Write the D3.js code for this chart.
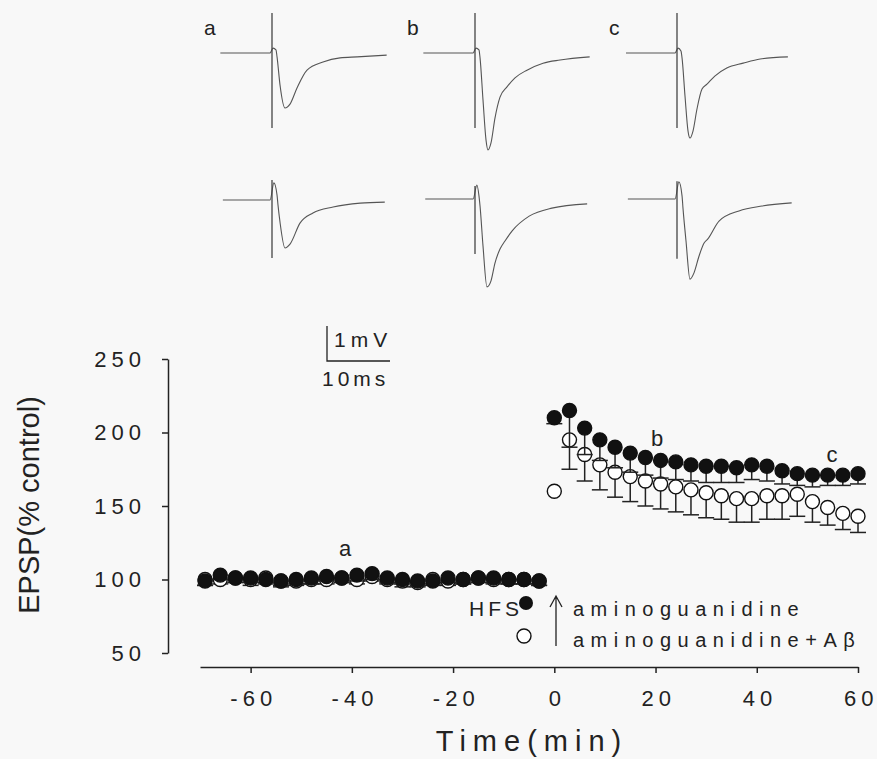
<!DOCTYPE html>
<html>
<head>
<meta charset="utf-8">
<script src="https://cdn.jsdelivr.net/npm/d3@7"></script>
<style>
  body { margin: 0; background: #f8f8f8; }
  svg { font-family: "Liberation Sans", Arial, sans-serif; }
</style>
</head>
<body>
<div id="viz"></div>
<script>
// ---- time course data (min, % control) ----
var preTime  = [-69,-66,-63,-60,-57,-54,-51,-48,-45,-42,-39,-36,-33,-30,-27,-24,-21,-18,-15,-12,-9,-6,-3];
var postTime = [0,3,6,9,12,15,18,21,24,27,30,33,36,39,42,45,48,51,54,57,60];

var aminoPre     = [99,103,101,101,100,99,100,101,102,101,103,104,101,100,99,99,101,100,101,101,100,100,99];
var aminoPreErr  = [3,3,3,3,3,3,3,4,3,3,4,4,3,3,3,3,3,3,3,3,3,3,3];
var abetaPre     = [100,100,101,100,101,99,99,100,100,101,100,102,100,99,98,100,99,100,101,100,100,100,99];
var abetaPreErr  = [4,3,3,4,3,4,3,3,3,3,3,3,3,4,3,3,3,3,3,3,3,3,3];

var aminoPost    = [210,215,203,195,190,186,183,181,180,178,177,177,176,178,177,174,172,171,171,171,172];
var aminoPostErr = [4,25,18,14,14,13,12,12,12,11,11,11,10,10,10,9,8,8,7,7,7];
var abetaPost    = [160,195,185,178,173,170,167,165,163,161,159,157,155,155,157,157,158,153,149,145,143];
var abetaPostErr = [0,20,18,17,17,17,17,17,17,17,17,16,16,16,16,16,15,14,12,11,11];

var xTicks = [-60,-40,-20,0,20,40,60];
var yTicks = [50,100,150,200,250];

// ---- sample traces (ms, mV) ----
var traceA1 = [[-8.2,0],[-0.3,0],[0.16,0.14],[0.63,0.09],[0.8,-0.11],[1.27,-0.91],[2.06,-1.57],[2.86,-1.46],[3.97,-1.0],[5.56,-0.49],[8.1,-0.26],[10.8,-0.14],[13.5,-0.11],[18.2,-0.06]];
var traceB1 = [[-8.2,0],[-0.3,0],[0.16,0.14],[0.63,0.09],[0.8,-0.14],[1.27,-1.34],[1.75,-2.49],[2.06,-2.77],[2.54,-2.57],[3.17,-1.86],[3.97,-1.26],[5.08,-0.97],[6.35,-0.71],[8.25,-0.49],[10.8,-0.29],[13.5,-0.2],[18.2,-0.11]];
var traceC1 = [[-8.1,0],[-0.3,0],[0.16,0.14],[0.63,0.06],[0.8,-0.14],[1.27,-1.23],[1.75,-2.23],[2.06,-2.43],[2.54,-2.23],[3.17,-1.6],[3.97,-1.03],[4.76,-0.89],[6.0,-0.66],[7.9,-0.43],[10.5,-0.29],[13.2,-0.17],[17.6,-0.11]];
var traceA2 = [[-7.8,0],[-0.3,0],[0.3,0.49],[0.8,0.14],[0.95,-0.14],[1.27,-0.63],[2.06,-1.37],[2.86,-1.26],[4.44,-0.66],[6.5,-0.37],[9.7,-0.2],[14.0,-0.09],[17.9,-0.06]];
var traceB2 = [[-7.9,0],[-0.3,0],[0.3,0.4],[0.63,0.09],[0.8,-0.2],[1.27,-1.34],[1.9,-2.51],[2.54,-2.34],[3.17,-1.83],[3.97,-1.43],[4.76,-1.2],[5.9,-0.91],[8.6,-0.49],[12.2,-0.26],[17.8,-0.14]];
var traceC2 = [[-7.8,0],[-0.3,0],[0.3,0.49],[0.8,0.09],[0.95,-0.26],[1.43,-1.2],[2.06,-2.29],[2.7,-2.11],[3.5,-1.63],[4.3,-1.26],[4.9,-1.14],[6.67,-0.63],[9.84,-0.34],[13.5,-0.2],[18.2,-0.11]];
// stimulus artifact extent (mV, top / bottom)
var artifactTop    = [[1.14,-2.14],[1.14,-2.14],[1.14,-2.14]];
var artifactBottom = [[0.57,-1.66],[0.37,-1.57],[0.51,-1.71]];
var traceLabels = ["a","b","c"];

var W = 877, H = 759;
var svg = d3.select("#viz").append("svg")
    .attr("width", W)
    .attr("height", H);

var ink = "#222";

// ---- traces ----
var msScale = d3.scaleLinear().domain([0, 10]).range([0, 63]);
var mvScale = d3.scaleLinear().domain([0, 1]).range([0, -35]);
var panelX = [272, 475, 677];
var rowY = [53, 199];

var traceLine = d3.line()
    .x(function(d){ return msScale(d[0]); })
    .y(function(d){ return mvScale(d[1]); })
    .curve(d3.curveMonotoneX);

function drawTrace(data, art, ox, oy){
    var g = svg.append("g").attr("transform", "translate(" + ox + "," + oy + ")");
    g.append("path")
        .attr("d", traceLine(data))
        .attr("fill", "none")
        .attr("stroke", "#555")
        .attr("stroke-width", 1.1);
    g.append("line")
        .attr("x1", msScale(0)).attr("x2", msScale(0))
        .attr("y1", mvScale(art[0])).attr("y2", mvScale(art[1]))
        .attr("stroke", "#444")
        .attr("stroke-width", 1.3);
}
var topTraces = [traceA1, traceB1, traceC1];
var botTraces = [traceA2, traceB2, traceC2];
for (var i = 0; i < 3; i++){
    drawTrace(topTraces[i], artifactTop[i], panelX[i], rowY[0]);
    drawTrace(botTraces[i], artifactBottom[i], panelX[i], rowY[1] + (i == 0 ? 1 : 0));
    svg.append("text")
        .attr("x", panelX[i] - 68)
        .attr("y", 35)
        .attr("font-size", 21)
        .attr("fill", ink)
        .text(traceLabels[i]);
}

// scale bar
var sb = svg.append("g").attr("transform", "translate(327,361)");
sb.append("path")
    .attr("d", "M" + msScale(0) + "," + mvScale(1) + "V" + mvScale(0) + "H" + msScale(10))
    .attr("fill", "none").attr("stroke", ink).attr("stroke-width", 1.3);
sb.append("text").attr("x", 7).attr("y", -14).attr("font-size", 21)
    .attr("letter-spacing", 5).attr("fill", ink).text("1mV");
sb.append("text").attr("x", -5).attr("y", 25).attr("font-size", 21)
    .attr("letter-spacing", 4).attr("fill", ink).text("10ms");

// ---- time course plot ----
var x = d3.scaleLinear().domain([-70, 60]).range([200, 858]);
var y = d3.scaleLinear().domain([50, 250]).range([653, 359]);

var xAxis = svg.append("g")
    .attr("transform", "translate(0,667)")
    .call(d3.axisBottom(x).tickValues(xTicks).tickSize(6).tickSizeOuter(0).tickPadding(17)
        .tickFormat(function(d){ return String(d); }));
var yAxis = svg.append("g")
    .attr("transform", "translate(168,0)")
    .call(d3.axisLeft(y).tickValues(yTicks).tickSize(6).tickSizeOuter(0).tickPadding(16));

[xAxis, yAxis].forEach(function(a){
    a.select(".domain").attr("stroke", ink).attr("stroke-width", 1.5);
    a.selectAll(".tick line").attr("stroke", ink).attr("stroke-width", 1.5);
    a.selectAll(".tick text")
        .attr("font-size", 22)
        .attr("letter-spacing", 5)
        .attr("fill", ink)
        .attr("font-family", "Liberation Sans, Arial, sans-serif");
});
xAxis.selectAll(".tick text").attr("dx", "0.12em");

svg.append("text")
    .attr("x", 532).attr("y", 751)
    .attr("text-anchor", "middle")
    .attr("font-size", 29)
    .attr("letter-spacing", 7)
    .attr("fill", ink)
    .text("Time(min)");

svg.append("text")
    .attr("transform", "translate(39,505) rotate(-90)")
    .attr("text-anchor", "middle")
    .attr("font-size", 29)
    .attr("fill", ink)
    .text("EPSP(% control)");

function series(times, vals, errs, filled){
    var pts = times.map(function(t, k){ return {t: t, v: vals[k], e: errs[k]}; });
    var g = svg.append("g");
    var eb = g.selectAll("g.eb").data(pts.filter(function(d){ return d.e > 0; })).enter().append("g");
    eb.append("line")
        .attr("x1", function(d){ return x(d.t); }).attr("x2", function(d){ return x(d.t); })
        .attr("y1", function(d){ return y(d.v); }).attr("y2", function(d){ return y(d.v - d.e); })
        .attr("stroke", ink).attr("stroke-width", 1.5);
    eb.append("line")
        .attr("x1", function(d){ return x(d.t) - 8; }).attr("x2", function(d){ return x(d.t) + 8; })
        .attr("y1", function(d){ return y(d.v - d.e); }).attr("y2", function(d){ return y(d.v - d.e); })
        .attr("stroke", ink).attr("stroke-width", 1.5);
    g.selectAll("circle").data(pts).enter().append("circle")
        .attr("cx", function(d){ return x(d.t); })
        .attr("cy", function(d){ return y(d.v); })
        .attr("r", 7)
        .attr("fill", filled ? "#111" : "#fff")
        .attr("stroke", "#111")
        .attr("stroke-width", 1.4);
}
series(preTime, abetaPre, abetaPreErr, false);
series(postTime, abetaPost, abetaPostErr, false);
series(preTime, aminoPre, aminoPreErr, true);
series(postTime, aminoPost, aminoPostErr, true);

// point labels
svg.append("text").attr("x", 345).attr("y", 556).attr("text-anchor", "middle")
    .attr("font-size", 22).attr("fill", ink).text("a");
svg.append("text").attr("x", 657).attr("y", 446).attr("text-anchor", "middle")
    .attr("font-size", 22).attr("fill", ink).text("b");
svg.append("text").attr("x", 832).attr("y", 462).attr("text-anchor", "middle")
    .attr("font-size", 22).attr("fill", ink).text("c");

// ---- legend ----
var lg = svg.append("g");
lg.append("text").attr("x", 469).attr("y", 616).attr("font-size", 21)
    .attr("letter-spacing", 4).attr("fill", ink).text("HFS");
lg.append("circle").attr("cx", 526).attr("cy", 603).attr("r", 7).attr("fill", "#111");
lg.append("circle").attr("cx", 524).attr("cy", 636).attr("r", 7)
    .attr("fill", "#fff").attr("stroke", "#111").attr("stroke-width", 1.4);
lg.append("path").attr("d", "M556,646V596M550,607L556,596L562,607")
    .attr("fill", "none").attr("stroke", ink).attr("stroke-width", 1.3);
lg.append("text").attr("x", 573).attr("y", 616).attr("font-size", 20)
    .attr("letter-spacing", 6.5).attr("fill", ink).text("aminoguanidine");
lg.append("text").attr("x", 573).attr("y", 647).attr("font-size", 20)
    .attr("letter-spacing", 6.5).attr("fill", ink).text("aminoguanidine+Aβ");
</script>
</body>
</html>
